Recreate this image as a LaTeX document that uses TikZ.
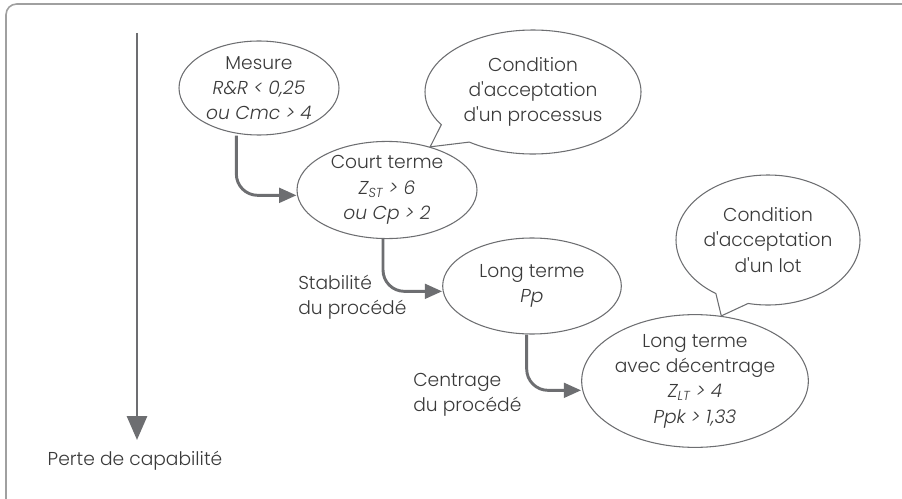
\documentclass[tikz,border=0pt]{standalone}
\usepackage{fontspec}
\setmainfont{Poppins}[UprightFont=*-Light, ItalicFont=*-LightItalic, Ligatures=TeXOff]
\usetikzlibrary{arrows.meta, positioning, shapes.geometric, shapes.callouts}
\definecolor{inkgray}{HTML}{3A3A3A}
\definecolor{linegray}{HTML}{6D6E71}
\definecolor{framegray}{HTML}{A0A0A0}
\tikzset{
  oval/.style={
    draw=linegray,
    ellipse,
    line width=0.8pt,
    inner sep=0pt,
    align=center,
    text=inkgray
  },
  bubble/.style={
    draw=linegray,
    ellipse callout,
    line width=0.8pt,
    inner sep=0pt,
    align=center,
    text=inkgray,
    callout pointer arc=22
  },
  flow/.style={
    -{Triangle[length=13pt,width=11pt]}, line width=2.2pt, draw=linegray,
    rounded corners=16pt}
}

\begin{document}
\begin{tikzpicture}[
  x=0.75pt, y=-0.75pt,
  font=\fontsize{14}{19}\selectfont,
  note/.style={align=left, text=inkgray, inner sep=0pt},
  bigflow/.style={-{Triangle[length=18pt,width=15pt]}, line width=2.2pt, draw=linegray}
]
\useasboundingbox (0,0) rectangle (902,499);
\clip (0,0) rectangle (902,499);
%% ---- frame ----
\draw[framegray, line width=1.2pt, rounded corners=8pt] (6,4) rectangle (930,512);

%% ---- loss of capability axis ----
\coordinate (loss top) at (137,33);
\coordinate (loss end) at (137,440);
\node[note, align=center] (perte) at (135,461) {Perte de capabilité};
\draw[bigflow] (loss top) -- (loss end);

%% ---- capability stages ----
\node[oval, minimum width=120pt, minimum height=70.5pt] (mesure) at (259,88)
  {Mesure\\\itshape R\&R < 0,25\\\itshape ou Cmc > 4};
\node[oval, minimum width=135pt, minimum height=72pt] (court) at (387,190)
  {Court terme\\\itshape Z\textsubscript{ST} > 6\\\itshape ou Cp > 2};
\node[oval, minimum width=134pt, minimum height=72pt] (long) at (532,286)
  {Long terme\\\itshape Pp};
\node[oval, minimum width=165pt, minimum height=91.5pt] (decal) at (695,381)
  {Long terme\\avec décentrage\\\itshape Z\textsubscript{LT} > 4\\\itshape Ppk > 1,33};

%% ---- acceptance callouts ----
\node[bubble, minimum width=162pt, minimum height=93pt,
      callout absolute pointer={(court.45)}] (procbubble) at (533,92)
  {Condition\\d'acceptation\\d'un processus};
\node[bubble, minimum width=138pt, minimum height=97.5pt,
      callout absolute pointer={(decal.68)}] (lotbubble) at (768,240)
  {Condition\\d'acceptation\\d'un lot};

%% ---- side notes ----
\node[note, anchor=west] (stab) at (298,297) {Stabilité\\du procédé};
\node[note, anchor=west] (centr) at (413,395) {Centrage\\du procédé};

%% ---- transitions ----
\draw[flow] ([xshift=-17pt]mesure.south) |- ([yshift=-4pt]court.west);
\draw[flow] ([xshift=-3pt]court.south) |- ([yshift=-4pt]long.west);
\draw[flow] ([xshift=-4pt]long.south) |- ([yshift=-7pt]decal.west);

\end{tikzpicture}
\end{document}
